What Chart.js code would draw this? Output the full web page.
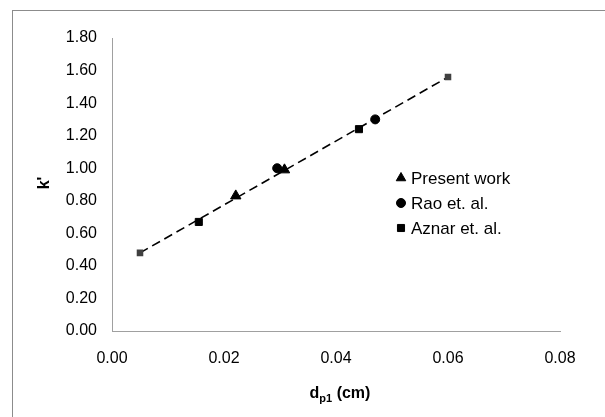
<!DOCTYPE html>
<html>
<head>
<meta charset="utf-8">
<script src="https://cdn.jsdelivr.net/npm/chart.js@4/dist/chart.umd.min.js"></script>
<style>
  html, body { margin: 0; padding: 0; background: #fff; }
  #wrap { width: 605px; height: 417px; position: relative; }
</style>
</head>
<body>
<div id="wrap"><canvas id="chart" width="605" height="417"></canvas></div>
<script>
// --- data ---
const presentX = [0.0221, 0.0308];
const presentY = [0.83, 0.99];
const raoX = [0.0295, 0.0470];
const raoY = [1.00, 1.30];
const aznarX = [0.0155, 0.0441];
const aznarY = [0.67, 1.24];
const fitX = [0.005, 0.060];
const fitY = [0.48, 1.56];

const xTicks = [0, 0.02, 0.04, 0.06, 0.08];
const yTicks = [0, 0.2, 0.4, 0.6, 0.8, 1.0, 1.2, 1.4, 1.6, 1.8];

const toPoints = (xs, ys) => xs.map((x, i) => ({ x: x, y: ys[i] }));
const FONT = 'Arial, "Liberation Sans", sans-serif';

// frame + axis titles (x title needs a subscript)
const decorations = {
    id: 'decorations',
    beforeDraw(chart) {
        const ctx = chart.ctx;
        ctx.save();
        ctx.fillStyle = '#fff';
        ctx.fillRect(0, 0, chart.width, chart.height);
        ctx.strokeStyle = '#8c8c8c';
        ctx.lineWidth = 1;
        ctx.strokeRect(12.5, 10.5, 700, 700);
        ctx.restore();
    },
    afterDraw(chart) {
        const ctx = chart.ctx;
        ctx.save();
        ctx.fillStyle = '#000';
        ctx.textBaseline = 'alphabetic';
        // x title: d_p1 (cm)
        const big = 'bold 16px ' + FONT;
        const small = 'bold 11px ' + FONT;
        ctx.font = big;
        const wD = ctx.measureText('d').width;
        const wRest = ctx.measureText(' (cm)').width;
        ctx.font = small;
        const wSub = ctx.measureText('p1').width;
        let x = 340 - (wD + wSub + wRest) / 2;
        const base = 398;
        ctx.font = big;
        ctx.fillText('d', x, base);
        x += wD;
        ctx.font = small;
        ctx.fillText('p1', x, base + 4);
        x += wSub;
        ctx.font = big;
        ctx.fillText(' (cm)', x, base);
        // y title: k'
        ctx.translate(45, 183);
        ctx.rotate(-Math.PI / 2);
        ctx.textAlign = 'center';
        ctx.textBaseline = 'middle';
        ctx.font = big;
        ctx.fillText("k'", 0, 0);
        ctx.restore();
    }
};

const ctx = document.getElementById('chart').getContext('2d');
new Chart(ctx, {
    type: 'scatter',
    data: {
        datasets: [
            {
                label: 'fit',
                data: toPoints(fitX, fitY),
                showLine: true,
                borderColor: '#000',
                borderWidth: 1.6,
                borderDash: [9, 5],
                pointStyle: 'rect',
                pointRadius: 3.5,
                pointBackgroundColor: '#404040',
                pointBorderColor: '#404040',
                order: 3
            },
            {
                label: 'Present work',
                data: toPoints(presentX, presentY),
                pointStyle: 'triangle',
                pointRadius: 6,
                backgroundColor: '#000',
                borderColor: '#000',
                order: 1
            },
            {
                label: 'Rao et. al.',
                data: toPoints(raoX, raoY),
                pointStyle: 'circle',
                pointRadius: 4.5,
                backgroundColor: '#000',
                borderColor: '#000',
                order: 2
            },
            {
                label: 'Aznar et. al.',
                data: toPoints(aznarX, aznarY),
                pointStyle: 'rect',
                pointRadius: 5,
                backgroundColor: '#000',
                borderColor: '#000',
                order: 2
            }
        ]
    },
    options: {
        responsive: false,
        animation: false,
        layout: {
            padding: { left: 0, top: 38, right: 45, bottom: 0 }
        },
        plugins: {
            legend: { display: false },
            tooltip: { enabled: false }
        },
        scales: {
            x: {
                type: 'linear',
                min: 0,
                max: 0.08,
                afterBuildTicks: (scale) => { scale.ticks = xTicks.map(v => ({ value: v })); },
                afterFit: (scale) => { scale.height = 86; },
                grid: { display: false, drawTicks: false },
                border: { display: true, color: '#a0a0a0', width: 1 },
                ticks: {
                    color: '#000',
                    padding: 18,
                    maxRotation: 0,
                    font: { family: FONT, size: 16 },
                    callback: (v) => v.toFixed(2)
                }
            },
            y: {
                type: 'linear',
                min: 0,
                max: 1.8,
                afterBuildTicks: (scale) => { scale.ticks = yTicks.map(v => ({ value: v })); },
                afterFit: (scale) => { scale.width = 112; },
                grid: { display: false, drawTicks: false },
                border: { display: true, color: '#a0a0a0', width: 1 },
                ticks: {
                    color: '#000',
                    padding: 15,
                    font: { family: FONT, size: 16 },
                    callback: (v) => v.toFixed(2)
                }
            }
        }
    },
    plugins: [decorations, {
        id: 'legendText',
        afterDraw(chart) {
            // legend as in the source: no frame, marker left of each label
            const c = chart.ctx;
            const items = chart.data.datasets.slice(1);
            const sizes = { triangle: 5.5, circle: 4.5, rect: 5 };
            c.save();
            c.font = '17px ' + FONT;
            c.textBaseline = 'middle';
            items.forEach((ds, i) => {
                const y = 178 + i * 25;
                c.fillStyle = '#000';
                c.strokeStyle = '#000';
                Chart.helpers.drawPoint(c, {
                    pointStyle: ds.pointStyle,
                    radius: sizes[ds.pointStyle],
                    borderWidth: 1
                }, 401, y);
                c.fillText(ds.label, 411, y + 1);
            });
            c.restore();
        }
    }]
});
</script>
</body>
</html>
